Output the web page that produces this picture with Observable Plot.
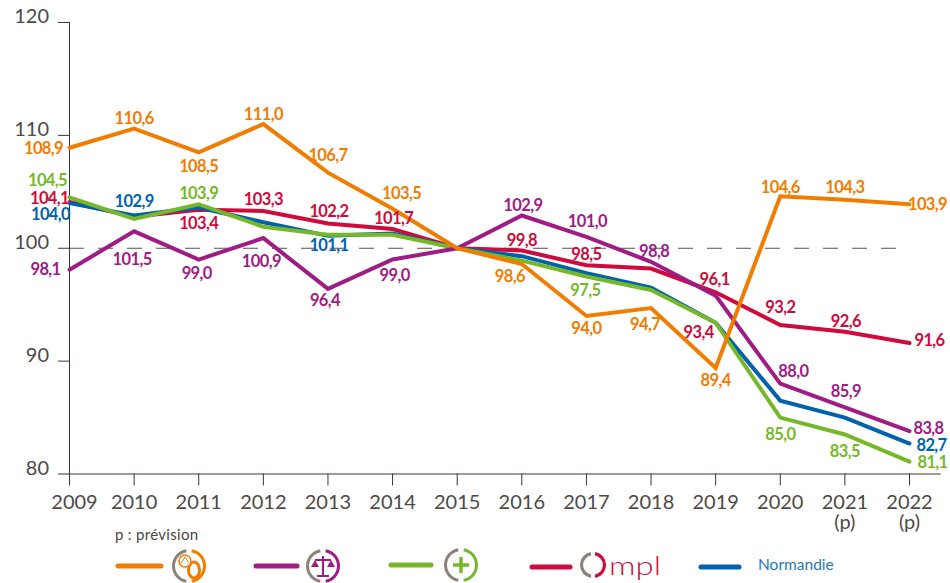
<!DOCTYPE html>
<html lang="fr">
<head>
<meta charset="utf-8">
<script src="https://cdn.jsdelivr.net/npm/d3@7"></script>
<script src="https://cdn.jsdelivr.net/npm/@observablehq/plot@0.6"></script>
<style>
html,body{margin:0;padding:0;background:#fff}
#wrap{position:relative;width:950px;height:583px;overflow:hidden;font-family:Lato,sans-serif}
#wrap>svg{display:block}
#note{position:absolute;left:115px;top:525px;font-size:15px;color:#4a4543;letter-spacing:.3px}
#legend{position:absolute;left:0;top:530px}
#chart g[aria-label="text"] text{letter-spacing:-.6px}
</style>
</head>
<body>
<div id="wrap"><div id="chart"></div><div id="note">p : prévision</div><div id="legendBox"></div></div>
<script>
const years = [2009,2010,2011,2012,2013,2014,2015,2016,2017,2018,2019,2020,2021,2022];
const yTicks = [80,90,100,110,120];
const orangeValues = [108.9,110.6,108.5,111.0,106.7,103.5,100,98.6,94.0,94.7,89.4,104.6,104.3,103.9];
const purpleValues = [98.1,101.5,99.0,100.9,96.4,99.0,100,102.9,101.0,98.8,95.8,88.0,85.9,83.8];
const greenValues  = [104.5,102.6,103.9,101.9,101.2,101.2,100,98.9,97.5,96.3,93.4,85.0,83.5,81.1];
const redValues    = [104.1,102.8,103.4,103.3,102.2,101.7,100,99.8,98.5,98.2,96.1,93.2,92.6,91.6];
const blueValues   = [104.0,102.9,103.6,102.3,101.1,101.3,100,99.3,97.8,96.5,93.4,86.5,85.0,82.7];

const ORANGE="#f07d00", PURPLE="#a01c85", GREEN="#76b82a", RED="#cf0a3c", BLUE="#0062ad", GREY="#8c827a", INK="#3c3533", TEXTINK="#4f4946";

// drawing order, bottom to top
const seriesList = [
  {name:"Ompl", color:RED, values:redValues},
  {name:"Normandie", color:BLUE, values:blueValues},
  {name:"Vert", color:GREEN, values:greenValues},
  {name:"Violet", color:PURPLE, values:purpleValues},
  {name:"Orange", color:ORANGE, values:orangeValues}
];

// label placement: [year, value, dx, dy]
const orangeLabels = [[2009,108.9,-26,1],[2010,110.6,0,-10],[2011,108.5,0,14],[2012,111.0,0,-9],[2013,106.7,0,-17],[2014,103.5,9,-15],[2016,98.6,-12,13],[2017,94.0,0,13],[2018,94.7,-6,17],[2019,89.4,0,13],[2020,104.6,0,-9],[2021,104.3,0,-12],[2022,103.9,18,0]];
const purpleLabels = [[2009,98.1,-24,0],[2010,101.5,-2,28],[2011,99.0,-2,14],[2012,100.9,-2,24],[2013,96.4,-3,12],[2014,99.0,2,16],[2016,102.9,1,-10],[2017,101.0,1,-15],[2018,98.8,3,-10],[2020,88.0,13,-12],[2021,85.9,1,-16],[2022,83.8,19,-2]];
const greenLabels  = [[2009,104.5,-22,-17],[2011,103.9,0,-11],[2017,97.5,-1,14],[2020,85.0,0,17],[2021,83.5,0,17],[2022,81.1,23,1]];
const redLabels    = [[2009,104.1,-20,-3],[2011,103.4,0,14],[2012,103.3,0,-11],[2013,102.2,1,-12],[2014,101.7,1,-10],[2016,99.8,0,-10],[2017,98.5,0,-10],[2019,96.1,-1,-13],[2019,93.4,-17,10],[2020,93.2,0,-17],[2021,92.6,1,-10],[2022,91.6,20,-2]];
const blueLabels   = [[2009,104.0,-19,12],[2010,102.9,0,-14],[2013,101.1,1,10],[2022,82.7,22,2]];

const labelGroups = [[orangeLabels,ORANGE],[purpleLabels,PURPLE],[greenLabels,GREEN],[redLabels,RED],[blueLabels,BLUE]];
const fr = v => v.toFixed(1).replace(".",",");

const lineMarks = seriesList.map(s =>
  Plot.line(years.map((y,i)=>({year:y,value:s.values[i]})),{
    x:"year",y:"value",stroke:s.color,strokeWidth:4,strokeLinejoin:"miter",strokeMiterlimit:6,strokeLinecap:"round"
  }));

const labelMarks = labelGroups.flatMap(([list,color]) => list.map(([year,value,dx,dy]) =>
  Plot.text([{year,value}],{
    x:"year",y:"value",text:d=>fr(d.value),dx,dy,fill:color,
    fontSize:16.5,fontWeight:700,textAnchor:"middle",lineAnchor:"middle"
  })));

const plot = Plot.plot({
  width:950,height:530,
  marginLeft:69,marginRight:41,marginTop:22,marginBottom:56.5,
  style:{fontFamily:"Lato, sans-serif",background:"#fff",overflow:"visible"},
  x:{domain:[2009,2022],range:[69,909]},
  y:{domain:[80,120],range:[473.5,22]},
  marks:[
    Plot.ruleY([100],{x1:2009,x2:2022,stroke:"#55504d",strokeWidth:1,strokeDasharray:"15,14"}),
    Plot.axisY({ticks:yTicks,text:null,tickSize:11,color:INK,label:null}),
    Plot.axisY({ticks:yTicks,tickSize:0,tickPadding:20.5,dy:-5.5,fontSize:20,fontWeight:400,color:TEXTINK,label:null,tickFormat:d=>String(d)}),
    Plot.axisX({ticks:years,text:null,tickSize:12,color:INK,label:null}),
    Plot.axisX({ticks:years.slice(1),tickSize:0,tickPadding:21,fontSize:20,fontWeight:400,color:TEXTINK,label:null,tickFormat:d=>d>=2021?d+"\n(p)":String(d)}),
    Plot.axisX({ticks:years.slice(0,1),tickSize:0,tickPadding:21,dx:5,fontSize:20,fontWeight:400,color:TEXTINK,label:null,tickFormat:d=>String(d)}),
    Plot.ruleX([2009],{y1:80,y2:120,stroke:INK,strokeWidth:1}),
    Plot.ruleY([80],{x1:2009,x2:2022.49,stroke:INK,strokeWidth:1.2}),
    ...lineMarks,
    ...labelMarks
  ]
});
document.getElementById("chart").appendChild(plot);

// legend
const ns = d3.create("svg").attr("id","legend").attr("width",950).attr("height",53).attr("viewBox","0 530 950 53");
const swatches = [[116,163,566,ORANGE],[254,299,566,PURPLE],[389,433,565,GREEN],[530,572,567,RED],[699,741,567,BLUE]];
for (const [a,b,y,c] of swatches)
  ns.append("line").attr("x1",a+2).attr("x2",b-2).attr("y1",y).attr("y2",y).attr("stroke",c).attr("stroke-width",5).attr("stroke-linecap","round");

function ring(cx,cy,r,c,w=3){
  const arc=(a0,a1,col)=>{
    const p=(a)=>[cx+r*Math.cos(a),cy+r*Math.sin(a)];
    const [x0,y0]=p(a0),[x1,y1]=p(a1);
    ns.append("path").attr("d",`M${x0},${y0}A${r},${r} 0 0 1 ${x1},${y1}`).attr("fill","none").attr("stroke",col).attr("stroke-width",w);
  };
  const d=Math.PI/180;
  arc(100*d,260*d,GREY);
  arc(-80*d,80*d,c);
}
ring(189,566,15.5,ORANGE);
ns.append("ellipse").attr("cx",194).attr("cy",570).attr("rx",5.5).attr("ry",8).attr("fill","none").attr("stroke",ORANGE).attr("stroke-width",3);
ns.append("circle").attr("cx",185).attr("cy",561).attr("r",6).attr("fill","#fff").attr("stroke",ORANGE).attr("stroke-width",1.5);
ns.append("path").attr("d","M181,563L185,557L189,563").attr("fill","none").attr("stroke",ORANGE).attr("stroke-width",1);

ring(323,566,15.5,PURPLE);
ns.append("path").attr("d","M323,556V576M317,576H329M315,560H331").attr("stroke",PURPLE).attr("stroke-width",2).attr("fill","none");
ns.append("path").attr("d","M311,567H319L315,560ZM327,567H335L331,560Z").attr("fill",PURPLE);

ring(461,565,15.5,GREEN);
ns.append("path").attr("d","M461,557V573M453,565H469").attr("stroke",GREEN).attr("stroke-width",3.5).attr("fill","none");

ring(593,565,11.5,RED,3.2);
ns.append("text").attr("x",609).attr("y",575).attr("font-family","Lato, sans-serif").attr("font-weight",300).attr("font-size",26).attr("fill",RED).attr("textLength",52).attr("lengthAdjust","spacingAndGlyphs").text("mpl");
ns.append("text").attr("x",758).attr("y",570).attr("font-family","Lato, sans-serif").attr("font-size",15.5).attr("fill","#1f78c0").text("Normandie");
document.getElementById("legendBox").appendChild(ns.node());
</script>
</body>
</html>
